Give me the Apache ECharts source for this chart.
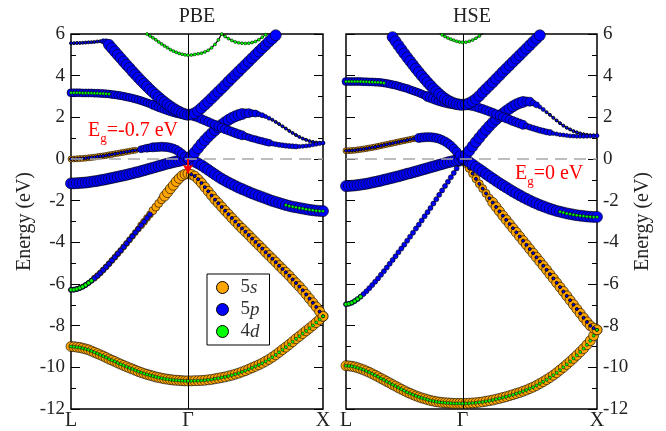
<!DOCTYPE html>
<html>
<head>
<meta charset="utf-8">
<script src="https://cdn.jsdelivr.net/npm/echarts@6/dist/echarts.min.js"></script>
<style>
  html, body { margin: 0; padding: 0; background: #fff; }
  #chart { width: 666px; height: 431px; }
</style>
</head>
<body>
<div id="chart"></div>
<script>
// k-path L -> Gamma -> X (units of 2pi/a): 41 points on L-Gamma, 40 on Gamma-X
const kPath = [0, 0.0217, 0.0433, 0.065, 0.0866, 0.1083, 0.1299, 0.1516, 0.1732, 0.1949,
  0.2165, 0.2382, 0.2598, 0.2815, 0.3031, 0.3248, 0.3464, 0.3681, 0.3897, 0.4114,
  0.433, 0.4547, 0.4763, 0.498, 0.5196, 0.5413, 0.5629, 0.5846, 0.6062, 0.6279,
  0.6495, 0.6712, 0.6928, 0.7145, 0.7361, 0.7578, 0.7794, 0.8011, 0.8227, 0.8444, 0.866,
  0.891, 0.916, 0.941, 0.966, 0.991, 1.016, 1.041, 1.066, 1.091, 1.116,
  1.141, 1.166, 1.191, 1.216, 1.241, 1.266, 1.291, 1.316, 1.341, 1.366,
  1.391, 1.416, 1.441, 1.466, 1.491, 1.516, 1.541, 1.566, 1.591, 1.616,
  1.641, 1.666, 1.691, 1.716, 1.741, 1.766, 1.791, 1.816, 1.841, 1.866];
const kTicks = [0, 0.866, 1.866];
const kTickLabels = ['L', 'Γ', 'X'];
const energyMin = -12, energyMax = 6, energyStep = 2;
const panelTitles = ['PBE', 'HSE'];
const gapPBE = -0.7;
const gapHSE = 0;
const orbitalNames = ['5s', '5p', '4d'];

// ---- PBE band energies (eV) ----
const pbeBand1 = [-9.0, -9.01, -9.03, -9.05, -9.08, -9.12, -9.16, -9.22, -9.28, -9.34, -9.4, -9.46, -9.53, -9.6, -9.66, -9.72, -9.79, -9.85, -9.91, -9.97,
  -10.03, -10.08, -10.14, -10.2, -10.25, -10.3, -10.34, -10.38, -10.42, -10.46, -10.49, -10.52, -10.55, -10.57, -10.59, -10.61, -10.62, -10.63, -10.64, -10.65, -10.65,
  -10.65, -10.64, -10.64, -10.63, -10.62, -10.6, -10.58, -10.55, -10.52, -10.49, -10.46, -10.42, -10.38, -10.33, -10.28, -10.22, -10.16, -10.09, -10.02, -9.95,
  -9.88, -9.8, -9.71, -9.62, -9.51, -9.4, -9.28, -9.15, -9.03, -8.9, -8.77, -8.63, -8.51, -8.38, -8.25, -8.12, -7.99, -7.85, -7.7, -7.55];
const pbeBand2 = [-6.28, -6.27, -6.24, -6.19, -6.13, -6.05, -5.95, -5.84, -5.72, -5.6, -5.47, -5.33, -5.18, -5.03, -4.87, -4.71, -4.55, -4.39, -4.22, -4.05,
  -3.88, -3.71, -3.53, -3.36, -3.18, -3.01, -2.83, -2.66, -2.48, -2.31, -2.13, -1.96, -1.78, -1.61, -1.43, -1.26, -1.08, -0.93, -0.8, -0.73, -0.7,
  -0.74, -0.82, -0.97, -1.15, -1.35, -1.55, -1.75, -1.95, -2.12, -2.3, -2.48, -2.65, -2.83, -3.0, -3.17, -3.33, -3.49, -3.65, -3.82, -3.98,
  -4.14, -4.3, -4.47, -4.63, -4.79, -4.95, -5.12, -5.28, -5.44, -5.6, -5.78, -5.95, -6.12, -6.3, -6.5, -6.7, -6.9, -7.1, -7.32, -7.55];
const pbeBand3 = [-1.17, -1.17, -1.16, -1.15, -1.14, -1.13, -1.11, -1.09, -1.07, -1.05, -1.02, -1.0, -0.97, -0.94, -0.91, -0.88, -0.85, -0.82, -0.79, -0.76,
  -0.72, -0.69, -0.65, -0.62, -0.58, -0.54, -0.5, -0.46, -0.42, -0.38, -0.34, -0.3, -0.26, -0.22, -0.19, -0.15, -0.12, -0.09, -0.06, -0.03, 0.0,
  -0.05, -0.13, -0.21, -0.3, -0.41, -0.52, -0.63, -0.74, -0.85, -0.95, -1.04, -1.13, -1.21, -1.29, -1.37, -1.44, -1.51, -1.58, -1.65, -1.71,
  -1.77, -1.83, -1.89, -1.95, -2.01, -2.06, -2.11, -2.16, -2.21, -2.25, -2.29, -2.32, -2.35, -2.38, -2.41, -2.44, -2.46, -2.48, -2.49, -2.5];
const pbeBand4 = [0.0, 0.0, 0.01, 0.02, 0.03, 0.04, 0.06, 0.07, 0.09, 0.11, 0.13, 0.15, 0.17, 0.2, 0.22, 0.25, 0.27, 0.3, 0.32, 0.35,
  0.37, 0.4, 0.42, 0.45, 0.47, 0.5, 0.52, 0.54, 0.56, 0.57, 0.58, 0.59, 0.58, 0.57, 0.54, 0.5, 0.44, 0.35, 0.24, 0.12, 0.0,
  0.15, 0.32, 0.52, 0.72, 0.9, 1.07, 1.23, 1.38, 1.52, 1.65, 1.77, 1.88, 1.97, 2.05, 2.11, 2.16, 2.19, 2.2, 2.2, 2.18,
  2.15, 2.1, 2.04, 1.96, 1.88, 1.78, 1.68, 1.57, 1.46, 1.35, 1.25, 1.15, 1.06, 0.98, 0.92, 0.86, 0.82, 0.79, 0.78, 0.77];
const pbeBand5 = [3.18, 3.18, 3.18, 3.18, 3.17, 3.17, 3.17, 3.17, 3.16, 3.16, 3.15, 3.14, 3.13, 3.12, 3.1, 3.08, 3.06, 3.04, 3.01, 2.98,
  2.95, 2.92, 2.88, 2.84, 2.8, 2.75, 2.7, 2.65, 2.6, 2.55, 2.49, 2.44, 2.39, 2.34, 2.29, 2.25, 2.21, 2.18, 2.15, 2.13, 2.12,
  2.1, 2.04, 1.99, 1.92, 1.85, 1.78, 1.71, 1.64, 1.57, 1.5, 1.43, 1.37, 1.31, 1.25, 1.19, 1.14, 1.09, 1.04, 0.99, 0.95,
  0.9, 0.86, 0.82, 0.78, 0.74, 0.71, 0.68, 0.66, 0.64, 0.62, 0.61, 0.6, 0.6, 0.61, 0.63, 0.65, 0.68, 0.71, 0.74, 0.77];
const pbeBand6 = [5.56, 5.56, 5.57, 5.57, 5.58, 5.59, 5.6, 5.61, 5.62, 5.64, 5.65, 5.65, 5.6, 5.48, 5.32, 5.16, 5.0, 4.84, 4.68, 4.52,
  4.37, 4.21, 4.06, 3.91, 3.76, 3.62, 3.48, 3.34, 3.21, 3.08, 2.96, 2.84, 2.73, 2.62, 2.52, 2.43, 2.34, 2.27, 2.2, 2.15, 2.12,
  2.14, 2.2, 2.31, 2.45, 2.6, 2.75, 2.91, 3.07, 3.23, 3.39, 3.55, 3.72, 3.88, 4.04, 4.2, 4.36, 4.52, 4.68, 4.84, 5.0,
  5.16, 5.32, 5.47, 5.63, 5.78, 5.94, 6.1, 6.25, null, null, null, null, null, null, null, null, null, null, null, null];
const pbeBand7 = [null, null, null, null, null, null, null, null, null, null, null, null, null, null, null, null, null, null, null, null,
  null, null, null, null, 6.2, 6.1, 6.0, 5.91, 5.82, 5.72, 5.62, 5.52, 5.43, 5.34, 5.25, 5.18, 5.12, 5.07, 5.03, 5.0, 4.98,
  4.99, 5.02, 5.05, 5.08, 5.14, 5.22, 5.34, 5.5, 5.72, 6.0, 5.88, 5.78, 5.69, 5.62, 5.58, 5.56, 5.55, 5.56, 5.59, 5.64,
  5.73, 5.85, 5.97, 6.1, null, null, null, null, null, null, null, null, null, null, null, null, null, null, null, null];

// ---- PBE orbital projections, run-length coded "weight x count" (L-Gamma | Gamma-X): 5s, 5p, 4d ----
const pbeProj1 = ['8x41|8x40', '0x41|0x40', '1x41|1x40'];
const pbeProj2 = ['3x8 4x16 5x4 6x4 8x9|8x40', '3x28 0x13|1x40', '2x8 0x33|0x40'];
const pbeProj3 = ['0x41|0x40', '9x41|9x40', '0x41|0x28 1x12'];
const pbeProj4 = ['4x23 0x18|0x40', '1x24 5x2 6x2 7x13|9x16 7x2 5x2 3x2 2x2 1x16', '0x41|0x40'];
const pbeProj5 = ['0x41|0x40', '6x28 7x13|7x16 5x8 3x8 2x8', '1x14 0x27|0x40'];
const pbeProj6 = ['0x41|0x40', '1x11 3x1 5x1 9x28|9x40', '0x41|0x40'];
const pbeProj7 = ['0x41|0x40', '0x41|0x40', '1x41|1x40'];

// ---- HSE band energies (eV) ----
const hseBand1 = [-9.92, -9.93, -9.95, -9.98, -10.02, -10.07, -10.12, -10.18, -10.24, -10.31, -10.38, -10.45, -10.53, -10.6, -10.68, -10.75, -10.83, -10.9, -10.98, -11.05,
  -11.12, -11.19, -11.25, -11.31, -11.37, -11.42, -11.47, -11.51, -11.55, -11.59, -11.62, -11.65, -11.67, -11.69, -11.7, -11.71, -11.72, -11.73, -11.73, -11.73, -11.73,
  -11.73, -11.72, -11.71, -11.7, -11.68, -11.66, -11.63, -11.6, -11.57, -11.53, -11.49, -11.45, -11.41, -11.36, -11.31, -11.26, -11.21, -11.15, -11.09, -11.02,
  -10.95, -10.87, -10.78, -10.69, -10.59, -10.49, -10.38, -10.26, -10.13, -10.0, -9.86, -9.72, -9.57, -9.42, -9.26, -9.1, -8.92, -8.72, -8.48, -8.2];
const hseBand2 = [-6.97, -6.95, -6.9, -6.82, -6.72, -6.61, -6.48, -6.35, -6.2, -6.05, -5.89, -5.73, -5.56, -5.39, -5.21, -5.03, -4.85, -4.67, -4.48, -4.3,
  -4.11, -3.92, -3.73, -3.54, -3.34, -3.15, -2.95, -2.75, -2.55, -2.35, -2.14, -1.93, -1.72, -1.51, -1.3, -1.09, -0.88, -0.67, -0.45, -0.23, 0.0,
  -0.22, -0.45, -0.7, -0.95, -1.19, -1.42, -1.65, -1.88, -2.09, -2.3, -2.51, -2.72, -2.92, -3.12, -3.32, -3.52, -3.72, -3.92, -4.12, -4.32,
  -4.52, -4.72, -4.92, -5.12, -5.32, -5.53, -5.73, -5.94, -6.15, -6.36, -6.57, -6.78, -6.99, -7.2, -7.41, -7.62, -7.82, -8.0, -8.12, -8.2];
const hseBand3 = [-1.3, -1.29, -1.28, -1.27, -1.25, -1.23, -1.21, -1.19, -1.16, -1.13, -1.1, -1.07, -1.04, -1.0, -0.97, -0.93, -0.9, -0.86, -0.83, -0.79,
  -0.75, -0.71, -0.68, -0.64, -0.6, -0.56, -0.52, -0.48, -0.44, -0.4, -0.36, -0.32, -0.28, -0.24, -0.2, -0.16, -0.13, -0.09, -0.06, -0.03, 0.0,
  -0.06, -0.15, -0.26, -0.38, -0.49, -0.6, -0.72, -0.83, -0.94, -1.05, -1.16, -1.26, -1.36, -1.46, -1.56, -1.65, -1.74, -1.83, -1.91, -1.99,
  -2.07, -2.14, -2.21, -2.27, -2.33, -2.39, -2.44, -2.49, -2.53, -2.57, -2.61, -2.64, -2.67, -2.7, -2.72, -2.74, -2.76, -2.77, -2.78, -2.78];
const hseBand4 = [0.4, 0.4, 0.41, 0.42, 0.44, 0.46, 0.48, 0.5, 0.53, 0.55, 0.58, 0.61, 0.64, 0.67, 0.7, 0.73, 0.76, 0.79, 0.82, 0.85,
  0.88, 0.91, 0.94, 0.97, 0.99, 1.01, 1.03, 1.04, 1.05, 1.05, 1.03, 1.01, 0.97, 0.91, 0.84, 0.75, 0.64, 0.5, 0.35, 0.18, 0.0,
  0.2, 0.4, 0.61, 0.82, 1.02, 1.22, 1.4, 1.58, 1.75, 1.9, 2.04, 2.18, 2.31, 2.42, 2.53, 2.62, 2.69, 2.74, 2.76, 2.75,
  2.69, 2.6, 2.5, 2.38, 2.25, 2.12, 1.98, 1.85, 1.72, 1.6, 1.5, 1.42, 1.34, 1.28, 1.23, 1.19, 1.16, 1.14, 1.13, 1.12];
const hseBand5 = [3.72, 3.72, 3.72, 3.72, 3.72, 3.72, 3.71, 3.71, 3.7, 3.7, 3.69, 3.68, 3.67, 3.65, 3.63, 3.6, 3.57, 3.54, 3.5, 3.46,
  3.42, 3.38, 3.33, 3.28, 3.23, 3.18, 3.12, 3.06, 3.0, 2.95, 2.9, 2.85, 2.8, 2.76, 2.72, 2.69, 2.66, 2.64, 2.62, 2.61, 2.6,
  2.59, 2.57, 2.54, 2.5, 2.45, 2.4, 2.34, 2.28, 2.22, 2.15, 2.09, 2.02, 1.95, 1.89, 1.82, 1.76, 1.7, 1.64, 1.58, 1.53,
  1.48, 1.43, 1.38, 1.34, 1.3, 1.27, 1.23, 1.2, 1.17, 1.15, 1.13, 1.11, 1.1, 1.09, 1.09, 1.09, 1.09, 1.1, 1.11, 1.12];
const hseBand6 = [null, null, null, null, null, null, null, null, null, null, null, null, null, null, 6.25, 6.05, 5.85, 5.65, 5.45, 5.26,
  5.07, 4.88, 4.7, 4.52, 4.34, 4.17, 4.0, 3.84, 3.68, 3.53, 3.38, 3.25, 3.12, 3.0, 2.9, 2.81, 2.74, 2.68, 2.64, 2.61, 2.6,
  2.62, 2.68, 2.77, 2.88, 3.03, 3.2, 3.36, 3.52, 3.68, 3.85, 4.01, 4.18, 4.34, 4.5, 4.66, 4.82, 4.98, 5.14, 5.3, 5.46,
  5.62, 5.78, 5.94, 6.1, null, null, null, null, null, null, null, null, null, null, null, null, null, null, null, null];
const hseBand7 = [null, null, null, null, null, null, null, null, null, null, null, null, null, null, null, null, null, null, null, null,
  null, null, null, null, null, null, null, null, null, null, 6.2, 6.12, 6.05, 5.96, 5.88, 5.81, 5.75, 5.7, 5.65, 5.62, 5.6,
  5.61, 5.65, 5.71, 5.8, 5.9, 6.02, 6.15, 6.3, null, null, null, null, null, null, null, null, null, null, null, null,
  null, null, null, null, null, null, null, null, null, null, null, null, null, null, null, null, null, null, null, null];

// ---- HSE orbital projections ----
const hseProj1 = ['8x41|8x40', '0x41|0x40', '1x41|1x40'];
const hseProj2 = ['0x41|6x8 8x32', '3x41|1x40', '2x6 0x35|0x40'];
const hseProj3 = ['0x41|0x40', '9x41|9x40', '0x41|0x28 1x12'];
const hseProj4 = ['4x25 0x16|0x40', '1x25 7x16|9x18 7x2 4x2 2x2 1x16', '0x41|0x40'];
const hseProj5 = ['0x41|0x40', '6x28 8x13|7x18 4x8 2x14', '1x14 0x27|0x40'];
const hseProj6 = ['0x41|0x40', '9x41|9x40', '0x41|0x40'];
const hseProj7 = ['0x41|0x40', '0x41|0x40', '1x41|1x40'];

const pbeBands = [[pbeBand1, pbeProj1], [pbeBand2, pbeProj2], [pbeBand3, pbeProj3], [pbeBand4, pbeProj4], [pbeBand5, pbeProj5], [pbeBand6, pbeProj6], [pbeBand7, pbeProj7]];
const hseBands = [[hseBand1, hseProj1], [hseBand2, hseProj2], [hseBand3, hseProj3], [hseBand4, hseProj4], [hseBand5, hseProj5], [hseBand6, hseProj6], [hseBand7, hseProj7]];

const FONT = '"Liberation Serif", "DejaVu Serif", serif';
const orbitalColors = ['#FFA500', '#0000FF', '#00FF00'];
const TEXT = '#222';
const N_LG = 41, N_GX = 40;

// expand "w x n" runs into one weight per k point
function expandRuns(part, n) {
  const out = [];
  part.trim().split(/\s+/).forEach(tok => {
    const [w, c] = tok.split('x').map(Number);
    for (let i = 0; i < c; i++) out.push(w);
  });
  while (out.length < n) out.push(0);
  return out.slice(0, n);
}
function parseWeights(str) {
  const [a, b] = str.split('|');
  return expandRuns(a, N_LG).concat(expandRuns(b, N_GX));
}

function panelSeries(bands, gi, gap, withArrow) {
  const xi = gi, yi = gi * 2;
  const series = [];
  const orbitalPoints = [[], [], []];
  bands.forEach(([energy, proj]) => {
    series.push({
      type: 'line', xAxisIndex: xi, yAxisIndex: yi,
      data: kPath.map((k, i) => [k, energy[i] === null ? '-' : energy[i]]),
      showSymbol: false, symbol: 'none', connectNulls: false, clip: true,
      lineStyle: { color: '#000', width: 1.2 }, z: 2, silent: true, animation: false
    });
    proj.forEach((str, oi) => {
      const w = parseWeights(str);
      energy.forEach((e, i) => {
        if (e === null || w[i] <= 0) return;
        const item = { value: [kPath[i], e, w[i]] };
        // faint projections read as a dark thread along the band
        if (w[i] === 1) item.itemStyle = { borderWidth: oi === 2 ? 0.5 : 0.9 };
        orbitalPoints[oi].push(item);
      });
    });
  });
  orbitalPoints.forEach((pts, oi) => {
    series.push({
      type: 'scatter', name: orbitalNames[oi], xAxisIndex: xi, yAxisIndex: yi,
      data: pts, symbol: 'circle', symbolSize: v => v[2] + 2, clip: true, large: false,
      itemStyle: { color: orbitalColors[oi], borderColor: '#000', borderWidth: 0.6, opacity: 1 },
      z: 3 + oi, silent: true, animation: false
    });
  });
  // Gamma line and Fermi level
  series.push({
    type: 'line', xAxisIndex: xi, yAxisIndex: yi, data: [], z: 10, silent: true, animation: false,
    markLine: {
      silent: true, symbol: 'none', animation: false, label: { show: false },
      data: [
        { xAxis: kTicks[1], lineStyle: { color: '#000', width: 1, type: 'solid' } },
        { yAxis: 0, lineStyle: { color: '#a8a8a8', width: 1.6, type: [12, 7] } }
      ]
    }
  });
  if (withArrow) {
    series.push({
      type: 'line', xAxisIndex: xi, yAxisIndex: yi, data: [], z: 11, silent: true, animation: false,
      markLine: {
        silent: true, animation: false, label: { show: false },
        symbol: ['none', 'arrow'], symbolSize: [8, 9],
        lineStyle: { color: '#ff0000', width: 2, type: 'solid' },
        data: [[{ coord: [kTicks[1], 0] }, { coord: [kTicks[1], gap] }]]
      }
    });
  }
  return series;
}

function xAx(gi) {
  return {
    type: 'value', gridIndex: gi, min: kTicks[0], max: kTicks[2],
    axisLine: { show: false }, axisTick: { show: false }, splitLine: { show: false },
    axisLabel: {
      customValues: kTicks, showMinLabel: true, showMaxLabel: true, hideOverlap: false,
      formatter: v => kTickLabels[kTicks.findIndex(t => Math.abs(t - v) < 1e-6)] || '',
      fontSize: 20, fontFamily: FONT, color: TEXT, margin: 2
    }
  };
}

function yAx(gi, pos, showLabels, name) {
  return {
    type: 'value', gridIndex: gi, position: pos, min: energyMin, max: energyMax, interval: energyStep,
    axisLine: { show: false },
    axisTick: { show: true, inside: true, length: 9, lineStyle: { color: '#000', width: 1 } },
    minorTick: { show: true, splitNumber: 2, length: 5, lineStyle: { color: '#000', width: 1 } },
    splitLine: { show: false }, minorSplitLine: { show: false },
    axisLabel: { show: showLabels, fontSize: 19, fontFamily: FONT, color: TEXT, margin: 6 },
    name: name, nameLocation: 'middle', nameGap: 36,
    nameTextStyle: { fontSize: 20, fontFamily: FONT, color: TEXT }
  };
}

function gapLabel(x, y, gap) {
  const font = '20px ' + FONT, small = '13px ' + FONT;
  return {
    type: 'group', z: 30, silent: true,
    children: [
      { type: 'text', x: x, y: y, style: { text: 'E', font: font, fill: '#ff0000', textVerticalAlign: 'top', verticalAlign: 'top' } },
      { type: 'text', x: x + 12.2, y: y + 11, style: { text: 'g', font: small, fill: '#ff0000', textVerticalAlign: 'top', verticalAlign: 'top' } },
      { type: 'text', x: x + 18.7, y: y, style: { text: '=' + gap + ' eV', font: font, fill: '#ff0000', textVerticalAlign: 'top', verticalAlign: 'top' } }
    ]
  };
}

const chart = echarts.init(document.getElementById('chart'), null, { renderer: 'canvas' });
chart.setOption({
  animation: false,
  backgroundColor: '#fff',
  grid: [
    { left: 71, top: 34, width: 252, height: 376, show: true, borderColor: '#000', borderWidth: 1.5, backgroundColor: 'transparent' },
    { left: 346, top: 34, width: 251, height: 376, show: true, borderColor: '#000', borderWidth: 1.5, backgroundColor: 'transparent' }
  ],
  xAxis: [xAx(0), xAx(1)],
  yAxis: [
    yAx(0, 'left', true, 'Energy (eV)'),
    yAx(0, 'right', false, ''),
    yAx(1, 'left', false, ''),
    yAx(1, 'right', true, 'Energy (eV)')
  ],
  legend: {
    data: orbitalNames, orient: 'vertical', left: 207, top: 274,
    backgroundColor: '#fff', borderColor: '#000', borderWidth: 1, borderRadius: 0,
    padding: [4, 10, 4, 9], itemGap: 3, itemWidth: 12, itemHeight: 12, icon: 'circle',
    selectedMode: false, z: 20,
    itemStyle: { borderColor: '#000', borderWidth: 1 },
    formatter: name => '{n|' + name[0] + '}{o|' + name.slice(1) + '}',
    textStyle: {
      fontFamily: FONT, fontSize: 19, color: '#333',
      rich: {
        n: { fontFamily: FONT, fontSize: 19, color: '#333', padding: [0, 0, 0, 7] },
        o: { fontFamily: FONT, fontSize: 19, color: '#333', fontStyle: 'italic' }
      }
    }
  },
  graphic: [
    { type: 'text', x: 197, y: 7, style: { text: panelTitles[0], font: '20px ' + FONT, fill: TEXT, textAlign: 'center', align: 'center', textVerticalAlign: 'top', verticalAlign: 'top' } },
    { type: 'text', x: 472, y: 7, style: { text: panelTitles[1], font: '20px ' + FONT, fill: TEXT, textAlign: 'center', align: 'center', textVerticalAlign: 'top', verticalAlign: 'top' } },
    gapLabel(88, 121, gapPBE),
    gapLabel(515, 164, gapHSE)
  ],
  series: [].concat(panelSeries(pbeBands, 0, gapPBE, true), panelSeries(hseBands, 1, gapHSE, false))
});
</script>
</body>
</html>
